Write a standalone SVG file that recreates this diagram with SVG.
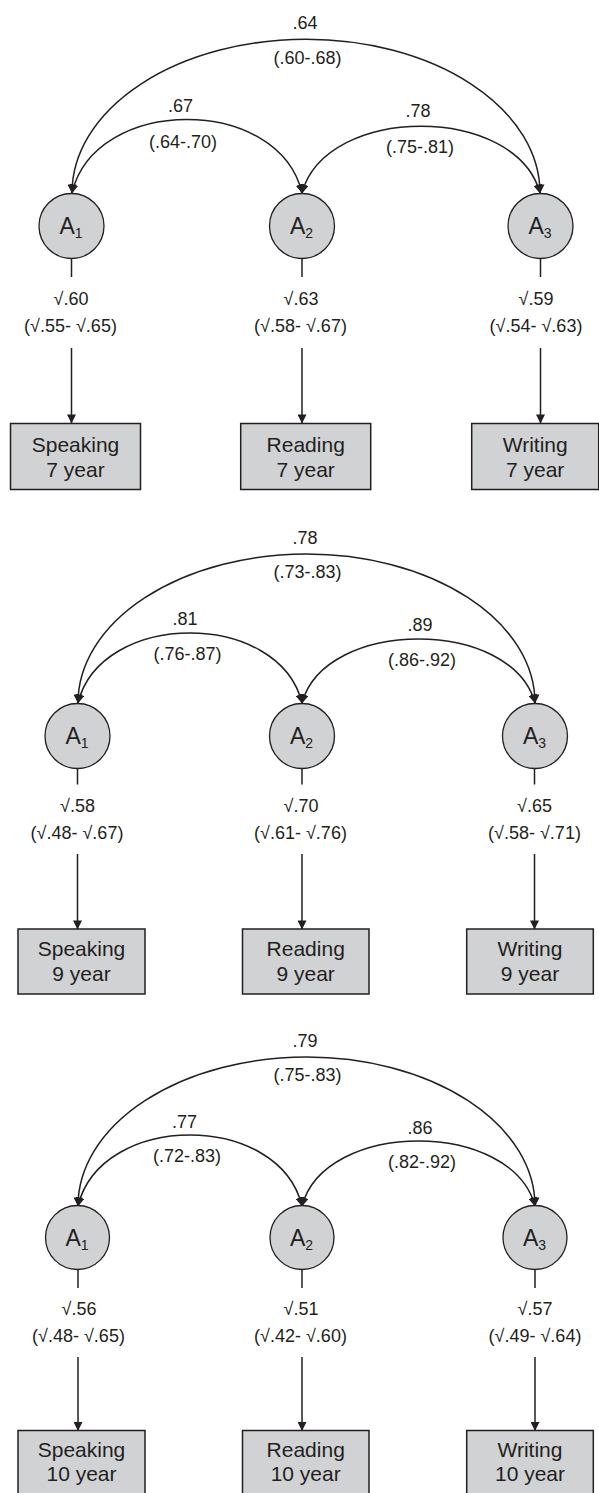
<svg xmlns="http://www.w3.org/2000/svg" width="599" height="1493" viewBox="0 0 599 1493">
<style>
text{font-family:"Liberation Sans",Arial,"DejaVu Sans",sans-serif;fill:#231f20}
.lbl{font-size:18px;text-anchor:middle}
.box{font-size:21px;text-anchor:middle}
.nm{font-size:23px;text-anchor:middle}
.sub{font-size:14px}
.lat circle{fill:#d1d2d4;stroke:#231f20;stroke-width:1.3}
.obs rect{fill:#d1d2d4;stroke:#231f20;stroke-width:1.5}
.con path,.con line{fill:none;stroke:#231f20;stroke-width:1.5}
.dbl{marker-start:url(#ah);marker-end:url(#ah)}
.one{marker-end:url(#ah)}
</style>
<defs>
<marker id="ah" viewBox="0 0 10 10" refX="9.5" refY="5" markerWidth="9" markerHeight="9" markerUnits="userSpaceOnUse" orient="auto-start-reverse">
<path d="M0,0 L10,5 L0,10 z" fill="#231f20"/>
</marker>
</defs>

<g id="connectors" class="con">
<!-- panel 1 -->
<path class="dbl" d="M72,193 A234,153.7 0 0 1 540,193"/>
<path class="dbl" d="M72,193 C95,95 279,95 302,193"/>
<path class="dbl" d="M302,193 C326,104 516,104 540,193"/>
<line x1="71.5" y1="258" x2="71.5" y2="277"/>
<line x1="302" y1="258" x2="302" y2="277"/>
<line x1="540.5" y1="258" x2="540.5" y2="277"/>
<line class="one" x1="71.5" y1="348" x2="71.5" y2="423"/>
<line class="one" x1="302" y1="348" x2="302" y2="423"/>
<line class="one" x1="540.5" y1="348" x2="540.5" y2="423"/>
<!-- panel 2 -->
<path class="dbl" d="M78,703 A228.5,149 0 0 1 535,703"/>
<path class="dbl" d="M78,703 C101,609.7 279,609.7 302,703"/>
<path class="dbl" d="M302,703 C325,617.7 512,617.7 535,703"/>
<line x1="77.5" y1="768" x2="77.5" y2="784.5"/>
<line x1="302" y1="768" x2="302" y2="784.5"/>
<line x1="534.5" y1="768" x2="534.5" y2="784.5"/>
<line class="one" x1="77.5" y1="854" x2="77.5" y2="929"/>
<line class="one" x1="302" y1="854" x2="302" y2="929"/>
<line class="one" x1="534.5" y1="854" x2="534.5" y2="929"/>
<!-- panel 3 -->
<path class="dbl" d="M78,1206 A228.5,149 0 0 1 535,1206"/>
<path class="dbl" d="M78,1206 C101,1111.3 279,1111.3 302,1206"/>
<path class="dbl" d="M302,1206 C325,1119.3 512,1119.3 535,1206"/>
<line x1="78" y1="1269" x2="78" y2="1288"/>
<line x1="302" y1="1269" x2="302" y2="1288"/>
<line x1="535" y1="1269" x2="535" y2="1288"/>
<line class="one" x1="78" y1="1357" x2="78" y2="1430.5"/>
<line class="one" x1="302" y1="1357" x2="302" y2="1430.5"/>
<line class="one" x1="535" y1="1357" x2="535" y2="1430.5"/>
</g>

<g id="labels">
<!-- panel 1 -->
<text class="lbl" x="305" y="29">.64</text>
<text class="lbl" x="307.5" y="64">(.60-.68)</text>
<text class="lbl" x="180.5" y="112">.67</text>
<text class="lbl" x="183" y="148">(.64-.70)</text>
<text class="lbl" x="418" y="117">.78</text>
<text class="lbl" x="420" y="153">(.75-.81)</text>
<text class="lbl" x="71" y="305">√.60</text>
<text class="lbl" x="70.5" y="331.5">(√.55- √.65)</text>
<text class="lbl" x="301" y="305">√.63</text>
<text class="lbl" x="300.5" y="331.5">(√.58- √.67)</text>
<text class="lbl" x="536" y="305">√.59</text>
<text class="lbl" x="536" y="331.5">(√.54- √.63)</text>
<!-- panel 2 -->
<text class="lbl" x="305" y="544">.78</text>
<text class="lbl" x="307.5" y="578">(.73-.83)</text>
<text class="lbl" x="185" y="625">.81</text>
<text class="lbl" x="187.5" y="660">(.76-.87)</text>
<text class="lbl" x="420" y="631">.89</text>
<text class="lbl" x="422" y="666">(.86-.92)</text>
<text class="lbl" x="77.5" y="812">√.58</text>
<text class="lbl" x="77" y="839">(√.48- √.67)</text>
<text class="lbl" x="301" y="812">√.70</text>
<text class="lbl" x="300.5" y="839">(√.61- √.76)</text>
<text class="lbl" x="534.5" y="812">√.65</text>
<text class="lbl" x="534.5" y="839">(√.58- √.71)</text>
<!-- panel 3 -->
<text class="lbl" x="305" y="1047">.79</text>
<text class="lbl" x="307.5" y="1081">(.75-.83)</text>
<text class="lbl" x="184.5" y="1128">.77</text>
<text class="lbl" x="187" y="1162">(.72-.83)</text>
<text class="lbl" x="420" y="1134">.86</text>
<text class="lbl" x="422" y="1168">(.82-.92)</text>
<text class="lbl" x="79" y="1315">√.56</text>
<text class="lbl" x="78.5" y="1342">(√.48- √.65)</text>
<text class="lbl" x="301" y="1315">√.51</text>
<text class="lbl" x="300.5" y="1342">(√.42- √.60)</text>
<text class="lbl" x="535" y="1315">√.57</text>
<text class="lbl" x="535" y="1342">(√.49- √.64)</text>
</g>

<!-- panel 1 nodes -->
<g id="p1-A1" class="lat"><circle cx="71.5" cy="226" r="32.5"/><text class="nm" x="71" y="234">A<tspan class="sub" dy="4">1</tspan></text></g>
<g id="p1-A2" class="lat"><circle cx="302" cy="226" r="32.5"/><text class="nm" x="301.5" y="234">A<tspan class="sub" dy="4">2</tspan></text></g>
<g id="p1-A3" class="lat"><circle cx="540.5" cy="226" r="32.5"/><text class="nm" x="540" y="234">A<tspan class="sub" dy="4">3</tspan></text></g>
<g id="p1-speaking" class="obs"><rect x="10.5" y="423.5" width="130" height="66"/><text class="box" x="75.5" y="452">Speaking</text><text class="box" x="75.5" y="477">7 year</text></g>
<g id="p1-reading" class="obs"><rect x="240.7" y="423.5" width="130" height="66"/><text class="box" x="305.7" y="452">Reading</text><text class="box" x="305.7" y="477">7 year</text></g>
<g id="p1-writing" class="obs"><rect x="471.7" y="423.5" width="127" height="66"/><text class="box" x="535.2" y="452">Writing</text><text class="box" x="535.2" y="477">7 year</text></g>

<!-- panel 2 nodes -->
<g id="p2-A1" class="lat"><circle cx="77.5" cy="736" r="32.5"/><text class="nm" x="77" y="744">A<tspan class="sub" dy="4">1</tspan></text></g>
<g id="p2-A2" class="lat"><circle cx="302" cy="736" r="32.5"/><text class="nm" x="301.5" y="744">A<tspan class="sub" dy="4">2</tspan></text></g>
<g id="p2-A3" class="lat"><circle cx="535" cy="736" r="32.5"/><text class="nm" x="534.5" y="744">A<tspan class="sub" dy="4">3</tspan></text></g>
<g id="p2-speaking" class="obs"><rect x="18" y="929" width="127" height="65"/><text class="box" x="81.5" y="956">Speaking</text><text class="box" x="81.5" y="980.5">9 year</text></g>
<g id="p2-reading" class="obs"><rect x="242.5" y="929" width="126.5" height="65"/><text class="box" x="305.7" y="956">Reading</text><text class="box" x="305.7" y="980.5">9 year</text></g>
<g id="p2-writing" class="obs"><rect x="466.7" y="929" width="126.6" height="65"/><text class="box" x="530" y="956">Writing</text><text class="box" x="530" y="980.5">9 year</text></g>

<!-- panel 3 nodes -->
<g id="p3-A1" class="lat"><circle cx="77.5" cy="1237.5" r="32"/><text class="nm" x="77" y="1245.5">A<tspan class="sub" dy="4">1</tspan></text></g>
<g id="p3-A2" class="lat"><circle cx="302" cy="1237.5" r="32"/><text class="nm" x="301.5" y="1245.5">A<tspan class="sub" dy="4">2</tspan></text></g>
<g id="p3-A3" class="lat"><circle cx="535" cy="1237.5" r="32"/><text class="nm" x="534.5" y="1245.5">A<tspan class="sub" dy="4">3</tspan></text></g>
<g id="p3-speaking" class="obs"><rect x="18" y="1430.5" width="127" height="66"/><text class="box" x="81.5" y="1457">Speaking</text><text class="box" x="81.5" y="1481">10 year</text></g>
<g id="p3-reading" class="obs"><rect x="242.5" y="1430.5" width="126.5" height="66"/><text class="box" x="305.7" y="1457">Reading</text><text class="box" x="305.7" y="1481">10 year</text></g>
<g id="p3-writing" class="obs"><rect x="466.7" y="1430.5" width="126.6" height="66"/><text class="box" x="530" y="1457">Writing</text><text class="box" x="530" y="1481">10 year</text></g>
</svg>
